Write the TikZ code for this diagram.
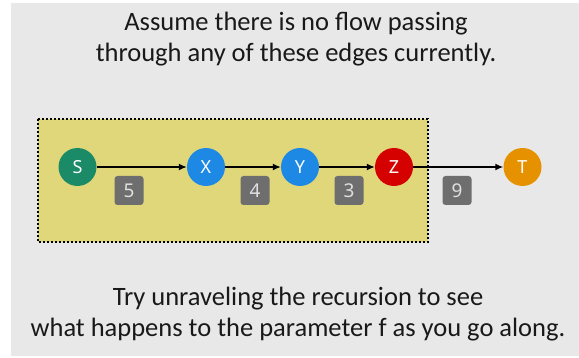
\documentclass[tikz,border=0pt]{standalone}
\usepackage{fontspec}
\setmainfont{Carlito}
\newfontfamily\nodefont{Noto Sans}
\usetikzlibrary{arrows.meta}
\definecolor{bggray}{HTML}{E8E8E8}
\definecolor{boxyellow}{HTML}{E0D67A}
\definecolor{sgreen}{HTML}{1B8A66}
\definecolor{vblue}{HTML}{1E88E5}
\definecolor{zred}{HTML}{D50000}
\definecolor{torange}{HTML}{E69100}
\definecolor{wgray}{HTML}{6E6E6E}
\tikzset{
  vertex/.style={circle, minimum size=38pt, inner sep=0pt, text=white,
    font=\nodefont\fontsize{18}{18}\selectfont},
  weight/.style={rectangle, rounded corners=3pt, fill=wgray, text=white!88!black,
    minimum size=29pt, inner sep=0pt, font=\nodefont\fontsize{19}{19}\selectfont},
  flow/.style={draw=black, line width=1.4pt, -{Latex[length=8pt,width=7pt]}},
  caption/.style={align=center, font=\fontsize{26.5}{31}\selectfont, text=black!90}
}
\begin{document}
\begin{tikzpicture}[x=1pt,y=-1pt]
  \useasboundingbox (0,0) rectangle (579,358);
  \fill[bggray] (11,3) rectangle (579,356);

  % captions
  \node[caption] (top) at (296,39) {Assume there is no flow passing\\through any of these edges currently.};
  \node[caption] (bottom) at (298,314) {Try unraveling the recursion to see\\what happens to the parameter f as you go along.};

  % highlighted region
  \fill[boxyellow] (38,119) rectangle (428,242);

  % vertices
  \node[vertex, fill=sgreen]  (s) at (77.5,167) {S};
  \node[vertex, fill=vblue]   (x) at (206,167) {X};
  \node[vertex, fill=vblue]   (y) at (300,167) {Y};
  \node[vertex, fill=zred]    (z) at (394,167) {Z};
  \node[vertex, fill=torange] (t) at (522.5,167) {T};

  % edges
  \draw[flow] (s) -- (x);
  \draw[flow] (x) -- (y);
  \draw[flow] (y) -- (z);
  \draw[flow] (z) -- (t);

  % dotted outline of the region
  \draw[black, line width=2pt, dash pattern=on 2pt off 2pt] (38,119) rectangle (428,242);

  % capacities
  \node[weight] (w1) at (129,190.5) {5};
  \node[weight] (w2) at (255,190.5) {4};
  \node[weight] (w3) at (349,190.5) {3};
  \node[weight] (w4) at (457,190.5) {9};
\end{tikzpicture}
\end{document}
